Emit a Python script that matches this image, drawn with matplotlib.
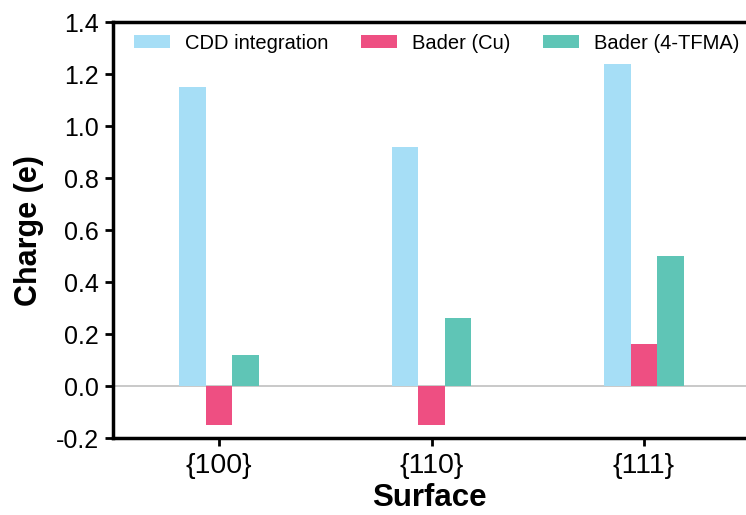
import numpy as np
import matplotlib
matplotlib.use('Agg')
import matplotlib.pyplot as plt

surfaces = ['{100}', '{110}', '{111}']
cdd = [1.15, 0.92, 1.24]
bader_cu = [-0.15, -0.15, 0.16]
bader_tfma = [0.12, 0.26, 0.50]

plt.rcParams['font.family'] = ['Liberation Sans', 'DejaVu Sans']

fig = plt.figure(figsize=(7.46, 5.15), dpi=100)
ax = fig.add_axes([0.1515, 0.1495, 0.8485, 0.8075])

x = np.arange(len(surfaces))
w = 0.125
ax.bar(x - w, cdd, w, color='#a6def6', label='CDD integration')
ax.bar(x, bader_cu, w, color='#ee4f82', label='Bader (Cu)')
ax.bar(x + w, bader_tfma, w, color='#5fc5b6', label='Bader (4-TFMA)')
ax.axhline(0, color='#c0c0c0', lw=1.2, zorder=0)

ax.set_xlim(-0.5, 2.48)
ax.set_ylim(-0.2, 1.4)
yt = np.arange(-0.2, 1.41, 0.2)
ax.set_yticks(yt)
ax.set_yticklabels([f'{v:.1f}' for v in yt])
ax.set_xticks(x)
ax.set_xticklabels(surfaces)
ax.tick_params(width=2, length=6, color='black')
ax.tick_params(axis='y', labelsize=18, pad=4)
ax.tick_params(axis='x', labelsize=20.5, pad=5)

for s in ['left', 'bottom', 'top']:
    ax.spines[s].set_linewidth(2.5)
ax.spines['right'].set_visible(False)

ax.set_ylabel('Charge (e)', fontsize=22, fontweight='bold')
ax.set_xlabel('Surface', fontsize=22.5, fontweight='bold')
ax.yaxis.set_label_coords(-0.109, 0.5)
ax.xaxis.set_label_coords(0.5, -0.108)

ax.legend(loc='upper left', bbox_to_anchor=(0.033, 0.972), ncol=3, frameon=False,
          fontsize=14.5, handlelength=1.8, handleheight=0.65, columnspacing=1.6,
          handletextpad=0.75, borderpad=0, borderaxespad=0)

fig.savefig('out.png', dpi=100)
